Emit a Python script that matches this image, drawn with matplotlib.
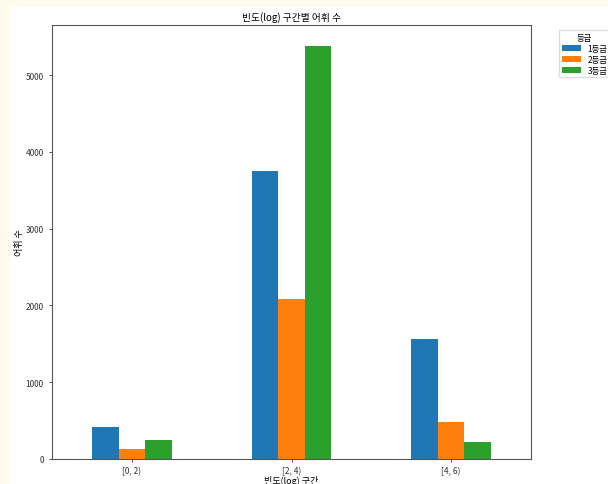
import numpy as np
import pandas as pd
import matplotlib
matplotlib.use('Agg')
from matplotlib import pyplot as plt
from matplotlib.patches import Rectangle

plt.rcParams['font.family'] = ['Noto Sans CJK KR', 'DejaVu Sans']

# 데이터
bins = ['[0, 2)', '[2, 4)', '[4, 6)']
grade1 = [413, 3755, 1563]
grade2 = [130, 2077, 477]
grade3 = [248, 5382, 217]

df = pd.DataFrame({'1등급': grade1, '2등급': grade2, '3등급': grade3}, index=bins)

W, H = 608, 485
fig = plt.figure(figsize=(W / 100, H / 100), dpi=100)
fig.patch.set_facecolor('#fffaeb')
# 스크린샷 안쪽 흰 영역 (축 뒤에 그림)
fig.patches.append(Rectangle((10 / W, 0), 1, (H - 8) / H, transform=fig.transFigure,
                             facecolor='white', edgecolor='none', zorder=-1))

ax = fig.add_axes([52 / W, (H - 460) / H, (531 - 52) / W, (460 - 26) / H])
df.plot(kind='bar', ax=ax, rot=0, legend=False)

ax.set_title('빈도(log) 구간별 어휘 수', fontsize=7, pad=4)
ax.set_xlabel('빈도(log) 구간', fontsize=6.5, labelpad=0)
ax.set_ylabel('어휘 수', fontsize=6.5, labelpad=1)
ax.tick_params(labelsize=6, length=2.5, width=0.6, colors='#333333')
ax.tick_params(axis='x', pad=2.5)
for s in ax.spines.values():
    s.set_color('#555555')
    s.set_linewidth(0.8)

handles, labels = ax.get_legend_handles_labels()
leg = fig.legend(handles, labels, title='등급', loc='upper left',
                 bbox_to_anchor=(559 / W, (H - 31) / H), borderaxespad=0,
                 fontsize=6, title_fontsize=6,
                 handlelength=2.3, handleheight=0.7, handletextpad=0.8,
                 borderpad=0.3, labelspacing=0.25,
                 framealpha=1, edgecolor='#dddddd', fancybox=False)

plt.savefig('out.png', dpi=100, facecolor=fig.get_facecolor())
